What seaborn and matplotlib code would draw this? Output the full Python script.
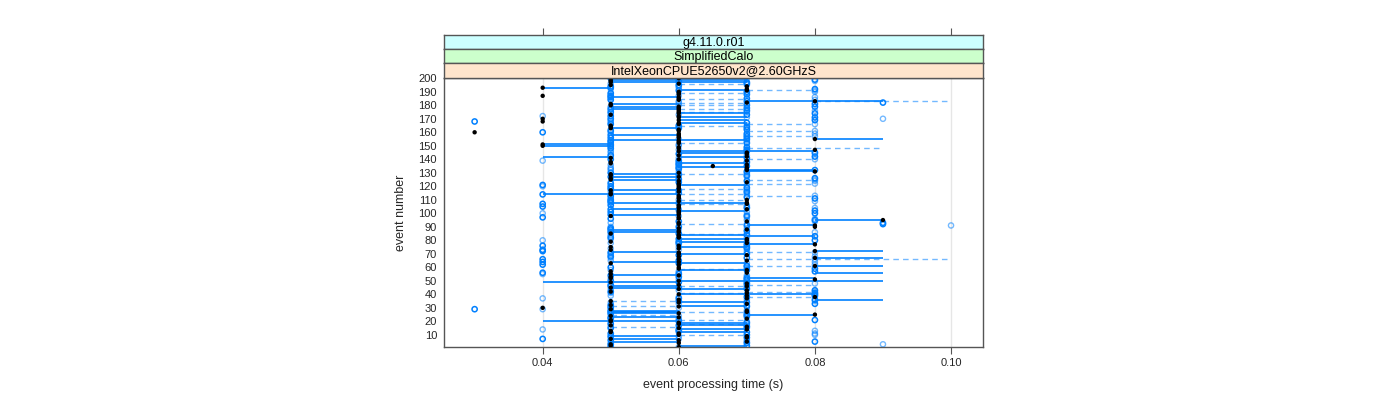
import numpy as np
import pandas as pd
import matplotlib
matplotlib.use("Agg")
import matplotlib.pyplot as plt
import seaborn as sns

sns.set_style("white")
plt.rcParams['font.family'] = ['Liberation Sans', 'DejaVu Sans']

# ---------------- data (times in ms, event index 1..200) ----------------
events = list(range(1, 201))

black_ms = [
    60, 50, 50, 60, 70, 60, 50, 70, 70, 60,
    60, 50, 50, 70, 60, 70, 50, 60, 60, 50,
    50, 70, 60, 50, 80, 60, 70, 70, 50, 40,
    60, 50, 70, 60, 50, 60, 70, 80, 70, 60,
    70, 50, 70, 60, 50, 70, 60, 70, 50, 60,
    80, 50, 50, 60, 50, 70, 50, 70, 60, 60,
    80, 60, 50, 60, 70, 60, 80, 60, 70, 60,
    60, 80, 50, 60, 50, 60, 80, 70, 50, 70,
    70, 60, 60, 60, 50, 60, 60, 70, 60, 80,
    80, 60, 60, 70, 90, 60, 60, 50, 60, 60,
    60, 60, 70, 60, 60, 60, 70, 70, 60, 70,
    60, 60, 60, 50, 50, 60, 50, 60, 60, 60,
    60, 60, 70, 60, 50, 50, 60, 50, 50, 60,
    80, 70, 70, 70, 65, 70, 50, 50, 70, 60,
    50, 70, 60, 70, 70, 60, 80, 60, 60, 40,
    40, 60, 60, 60, 80, 60, 60, 60, 60, 30,
    60, 60, 50, 50, 50, 60, 60, 40, 60, 40,
    60, 60, 50, 60, 60, 60, 60, 60, 60, 50,
    50, 70, 80, 60, 60, 60, 40, 60, 60, 60,
    70, 70, 40, 70, 50, 60, 50, 50, 50, 60,
]

run_a_ms = [
    50, 70, 50, 70, 80, 50, 40, 70, 50, 70,
    50, 70, 60, 60, 50, 70, 60, 50, 70, 60,
    80, 50, 50, 70, 70, 50, 50, 50, 30, 50,
    70, 50, 80, 70, 60, 80, 60, 70, 80, 80,
    80, 50, 80, 70, 60, 50, 50, 70, 60, 50,
    70, 70, 60, 50, 60, 40, 80, 70, 80, 50,
    70, 40, 60, 40, 60, 40, 70, 50, 60, 70,
    50, 40, 40, 70, 70, 40, 70, 60, 60, 80,
    60, 50, 80, 70, 60, 50, 70, 50, 50, 60,
    70, 90, 90, 60, 80, 50, 40, 70, 50, 80,
    50, 80, 50, 70, 40, 50, 40, 50, 50, 50,
    80, 70, 50, 40, 60, 70, 60, 50, 70, 50,
    40, 50, 60, 70, 60, 80, 50, 70, 60, 50,
    70, 80, 60, 60, 70, 60, 60, 70, 60, 50,
    70, 80, 50, 60, 80, 70, 70, 50, 70, 50,
    50, 70, 50, 50, 70, 50, 70, 50, 70, 40,
    50, 70, 60, 70, 60, 50, 70, 30, 80, 50,
    80, 50, 70, 80, 50, 70, 50, 70, 80, 70,
    80, 90, 70, 50, 70, 50, 50, 70, 50, 70,
    60, 80, 50, 50, 60, 70, 70, 60, 80, 50,
]

run_b_ms = [
    60, 50, 90, 50, 70, 70, 60, 50, 60, 80,
    80, 60, 80, 40, 70, 50, 70, 70, 50, 70,
    60, 60, 70, 60, 50, 70, 70, 70, 40, 60,
    50, 70, 60, 50, 80, 70, 40, 60, 50, 70,
    50, 80, 60, 50, 70, 70, 70, 80, 70, 70,
    60, 50, 70, 70, 40, 60, 60, 50, 70, 70,
    70, 80, 70, 80, 50, 80, 50, 80, 50, 50,
    80, 70, 60, 50, 60, 70, 60, 50, 70, 40,
    50, 70, 50, 50, 70, 80, 50, 60, 70, 50,
    100, 70, 50, 80, 70, 80, 70, 60, 70, 40,
    70, 60, 60, 80, 70, 70, 60, 60, 80, 60,
    50, 50, 80, 70, 70, 50, 70, 70, 50, 40,
    70, 80, 50, 80, 80, 60, 70, 60, 70, 70,
    60, 50, 50, 50, 60, 50, 70, 60, 40, 80,
    60, 50, 70, 80, 50, 50, 60, 70, 50, 60,
    60, 50, 70, 70, 60, 70, 80, 70, 80, 50,
    80, 50, 70, 60, 70, 80, 50, 50, 50, 90,
    70, 40, 60, 50, 70, 80, 70, 50, 50, 60,
    70, 60, 60, 80, 50, 80, 60, 50, 70, 80,
    80, 50, 60, 60, 70, 50, 60, 80, 60, 70,
]

# horizontal solid segments: event, from (ms), to (ms)
solid_event = [199, 197, 193, 191, 183, 181, 179, 177, 174, 169, 167, 163, 155, 154,
               151, 150, 146, 145, 142, 142, 134, 132, 131, 129, 127, 125, 121, 114,
               114, 108, 103, 102, 95, 88, 86, 84, 83, 79, 77, 75, 72, 71, 70, 67,
               64, 61, 58, 56, 52, 50, 49, 46, 45, 44, 40, 36, 34, 28, 27, 26, 25,
               23, 20, 19, 14, 12, 9, 7, 5, 186, 171, 158, 137, 117, 99, 91, 81,
               63, 54, 31, 17, 2]
solid_from = [50, 50, 40, 60, 70, 50, 50, 50, 60, 60, 60, 50, 80, 50,
              40, 40, 60, 60, 40, 60, 60, 70, 70, 50, 50, 50, 60, 40,
              50, 50, 50, 60, 80, 50, 50, 60, 70, 60, 70, 60, 80, 50, 60, 80,
              50, 80, 60, 80, 70, 60, 40, 50, 50, 60, 60, 80, 60, 50, 50, 50, 70,
              50, 40, 60, 60, 60, 50, 50, 50, 50, 60, 50, 60, 50, 50, 70, 60,
              60, 50, 60, 60, 60]
solid_to = [70, 70, 50, 70, 90, 60, 60, 60, 70, 70, 70, 60, 90, 70,
            50, 50, 80, 70, 50, 70, 70, 80, 80, 60, 60, 60, 70, 50,
            60, 70, 60, 70, 90, 60, 60, 70, 80, 70, 80, 70, 90, 60, 70, 90,
            60, 90, 70, 90, 80, 90, 60, 60, 60, 70, 80, 90, 70, 60, 60, 60, 80,
            60, 60, 70, 70, 70, 60, 60, 60, 60, 70, 60, 70, 60, 60, 80, 70,
            70, 60, 70, 70, 70]

# horizontal dashed segments: event, from (ms), to (ms)
dashed_event = [191, 189, 183, 182, 180, 177, 166, 165, 161, 157, 148, 140, 129, 125,
                122, 114, 113, 107, 71, 66, 61, 47, 46, 42, 38, 35, 31, 27, 25, 18,
                16, 10, 196, 185, 175, 152, 118, 110, 92, 85, 59, 41, 21]
dashed_from = [70, 60, 80, 60, 60, 60, 70, 60, 70, 70, 70, 70, 60, 70,
               70, 60, 70, 60, 70, 70, 70, 70, 60, 70, 70, 50, 50, 60, 50, 60,
               50, 60, 60, 60, 60, 60, 60, 60, 60, 60, 60, 60, 60]
dashed_to = [80, 70, 100, 70, 70, 70, 80, 70, 80, 80, 90, 80, 70, 80,
             80, 70, 80, 70, 80, 100, 80, 80, 70, 80, 80, 60, 60, 70, 60, 70,
             60, 70, 70, 70, 70, 70, 70, 70, 70, 70, 70, 70, 70]

x_ticks = [0.04, 0.06, 0.08, 0.10]
x_tick_labels = ["0.04", "0.06", "0.08", "0.10"]
y_ticks = list(range(10, 201, 10))
strip_labels = ["g4.11.0.r01", "SimplifiedCalo", "IntelXeonCPUE52650v2@2.60GHzS"]
strip_colors = ["#CCFFFF", "#CCFFCC", "#FFE5CC"]

# ---------------- figure ----------------
W, H = 1400, 400
fig = plt.figure(figsize=(W / 100, H / 100), dpi=100)


def rect(x0, y0, x1, y1):
    return [x0 / W, 1 - y1 / H, (x1 - x0) / W, (y1 - y0) / H]


frame_col = "#555555"
blue = "#0080ff"

ax = fig.add_axes(rect(444, 78, 983, 347))
ax.set_xlim(0.0255, 0.1047)
ax.set_ylim(1.0, 200.2)

for xt in x_ticks:
    ax.axvline(xt, color="#e6e6e6", lw=1, zorder=0)

sol = pd.DataFrame({"event": solid_event, "x0": np.array(solid_from) / 1000,
                    "x1": np.array(solid_to) / 1000})
das = pd.DataFrame({"event": dashed_event, "x0": np.array(dashed_from) / 1000,
                    "x1": np.array(dashed_to) / 1000})
ax.hlines(das["event"], das["x0"], das["x1"], colors=blue, alpha=0.55,
          linestyles=(0, (4, 3)), lw=1.0, zorder=1)
ax.hlines(sol["event"], sol["x0"], sol["x1"], colors=blue, lw=1.2, zorder=2)

df = pd.DataFrame({"event": events,
                   "black": np.array(black_ms) / 1000,
                   "run_a": np.array(run_a_ms) / 1000,
                   "run_b": np.array(run_b_ms) / 1000})

sns.scatterplot(data=df, x="run_b", y="event", ax=ax, marker="o", s=14,
                facecolor="none", edgecolor=blue, linewidth=1.0, alpha=0.55,
                zorder=3, legend=False)
sns.scatterplot(data=df, x="run_a", y="event", ax=ax, marker="o", s=14,
                facecolor="none", edgecolor=blue, linewidth=1.1,
                zorder=4, legend=False)
sns.scatterplot(data=df, x="black", y="event", ax=ax, marker="o", s=10,
                color="black", edgecolor="none", linewidth=0,
                zorder=5, legend=False)

ax.set_xticks(x_ticks)
ax.set_xticklabels(x_tick_labels)
ax.set_yticks(y_ticks)
ax.set_yticklabels([str(v) for v in y_ticks])
ax.tick_params(axis="x", direction="out", length=5, width=0.8, color=frame_col,
               labelsize=8, pad=3, bottom=True)
ax.tick_params(axis="y", direction="out", length=0, labelsize=8, pad=5, left=True)
for sp in ax.spines.values():
    sp.set_color(frame_col)
    sp.set_linewidth(1.0)
ax.set_xlabel("event processing time (s)", fontsize=9, labelpad=8)
ax.set_ylabel("event number", fontsize=9, labelpad=8)
ax.grid(False)

# strips (outermost on top)
strip_rows = [(35, 49), (49, 63), (63, 78)]
for (y0, y1), lab, col in zip(strip_rows, strip_labels, strip_colors):
    sax = fig.add_axes(rect(444, y0, 983, y1))
    sax.set_facecolor(col)
    sax.set_xlim(ax.get_xlim())
    sax.set_ylim(0, 1)
    sax.set_yticks([])
    sax.text(0.5, 0.45, lab, transform=sax.transAxes, ha="center", va="center",
             fontsize=9, color="black")
    for sp in sax.spines.values():
        sp.set_color(frame_col)
        sp.set_linewidth(1.0)
    if y0 == 35:
        sax.set_xticks(x_ticks)
        sax.tick_params(axis="x", top=True, bottom=False, labeltop=False,
                        labelbottom=False, direction="out", length=5, width=0.8,
                        color=frame_col)
    else:
        sax.set_xticks([])

fig.savefig("out.png", dpi=100)
